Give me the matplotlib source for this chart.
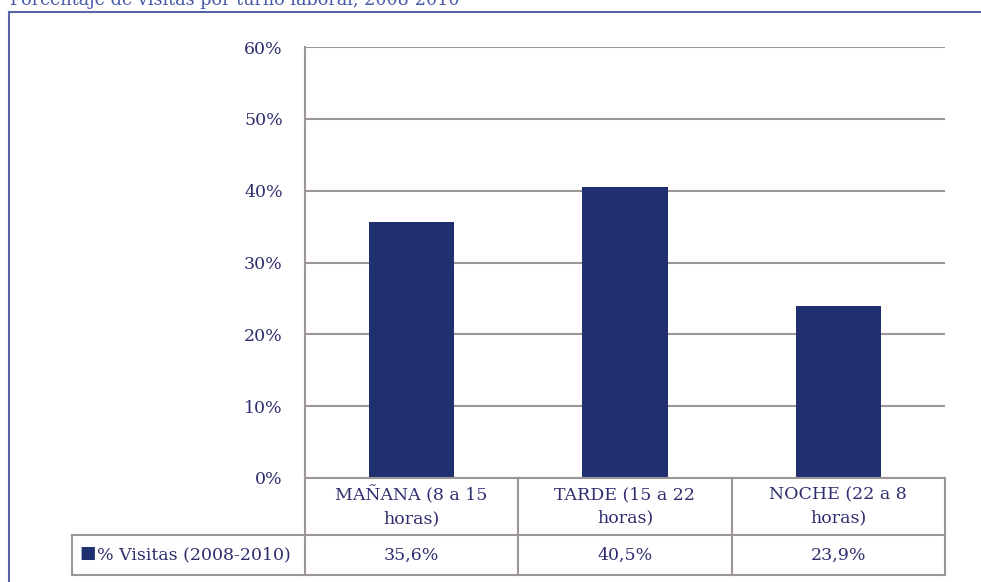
import numpy as np
import matplotlib
matplotlib.use('Agg')
import matplotlib.pyplot as plt
import matplotlib.ticker as ticker

categories = ['MAÑANA (8 a 15\nhoras)', 'TARDE (15 a 22\nhoras)', 'NOCHE (22 a 8\nhoras)']
values = [35.6, 40.5, 23.9]
value_labels = ['35,6%', '40,5%', '23,9%']
series_name = '% Visitas (2008-2010)'
title = 'Porcentaje de visitas por turno laboral, 2008-2010'

plt.rcParams['font.family'] = ['DejaVu Serif']
text_color = '#2e2e6e'
bar_color = '#1f2f6f'
grid_color = '#9d9696'
W, H = 981, 582
fs = 12.5

fig = plt.figure(figsize=(W / 100, H / 100), dpi=100)

def px(x0, y0, x1, y1):
  return [x0 / W, 1 - y1 / H, (x1 - x0) / W, (y1 - y0) / H]

# outer frame and cut-off title
fig.add_artist(plt.Line2D([9 / W, 9 / W], [0, 1 - 12 / H], color='#5a66a6', lw=1.5))
fig.add_artist(plt.Line2D([9 / W, 1], [1 - 12 / H, 1 - 12 / H], color='#5a66a6', lw=1.5))
fig.text(10 / W, 1 - 5 / H, title, color='#4a5aa8', fontsize=12.7, va='baseline')

# bar chart
ax = fig.add_axes(px(305, 47, 945, 478))
num = np.arange(len(categories))
ax.bar(num, values, 0.4, color=bar_color, zorder=3)
ax.set_xlim(-0.5, len(categories) - 0.5)
ax.set_ylim(0, 60)
ax.yaxis.set_major_locator(ticker.MultipleLocator(10))
ax.yaxis.set_major_formatter(ticker.FuncFormatter(lambda v, p: '%d%%' % v))
ax.grid(axis='y', color=grid_color, lw=1.5, zorder=0)
ax.set_xticks([])
for s in ['top', 'right', 'bottom']:
  ax.spines[s].set_visible(False)
ax.spines['left'].set_color(grid_color)
ax.spines['left'].set_linewidth(1.5)
ax.tick_params(axis='y', length=0, pad=16, labelsize=fs, labelcolor=text_color)

# data table under the chart
tab = fig.add_axes(px(72, 478, 945, 575))
cat_w = (945 - 305) / len(categories)
x_left = -0.5 - (305 - 72) / cat_w
tab.set_xlim(x_left, len(categories) - 0.5)
tab.set_ylim(0, 1)
tab.axis('off')
mid = 40 / 97
lw = 1.5
for b in np.arange(len(categories) + 1) - 0.5:
  tab.plot([b, b], [0, 1], color=grid_color, lw=lw, clip_on=False)
tab.plot([x_left, x_left], [0, mid], color=grid_color, lw=lw, clip_on=False)
tab.plot([-0.5, len(categories) - 0.5], [1, 1], color=grid_color, lw=lw, clip_on=False)
tab.plot([x_left, len(categories) - 0.5], [mid, mid], color=grid_color, lw=lw, clip_on=False)
tab.plot([x_left, len(categories) - 0.5], [0, 0], color=grid_color, lw=lw, clip_on=False)

for i, c in enumerate(categories):
  tab.text(i, (1 + mid) / 2, c, ha='center', va='center', color=text_color,
           fontsize=fs, linespacing=1.5)
  tab.text(i, mid / 2, value_labels[i], ha='center', va='center', color=text_color, fontsize=fs)

tab.text(x_left + 0.035, mid / 2 + 0.02, '■', ha='left', va='center', color=bar_color,
         fontsize=fs, family=['DejaVu Sans'])
tab.text(x_left + 0.115, mid / 2, series_name, ha='left', va='center', color=text_color, fontsize=fs)

fig.savefig('out.png', dpi=100)
